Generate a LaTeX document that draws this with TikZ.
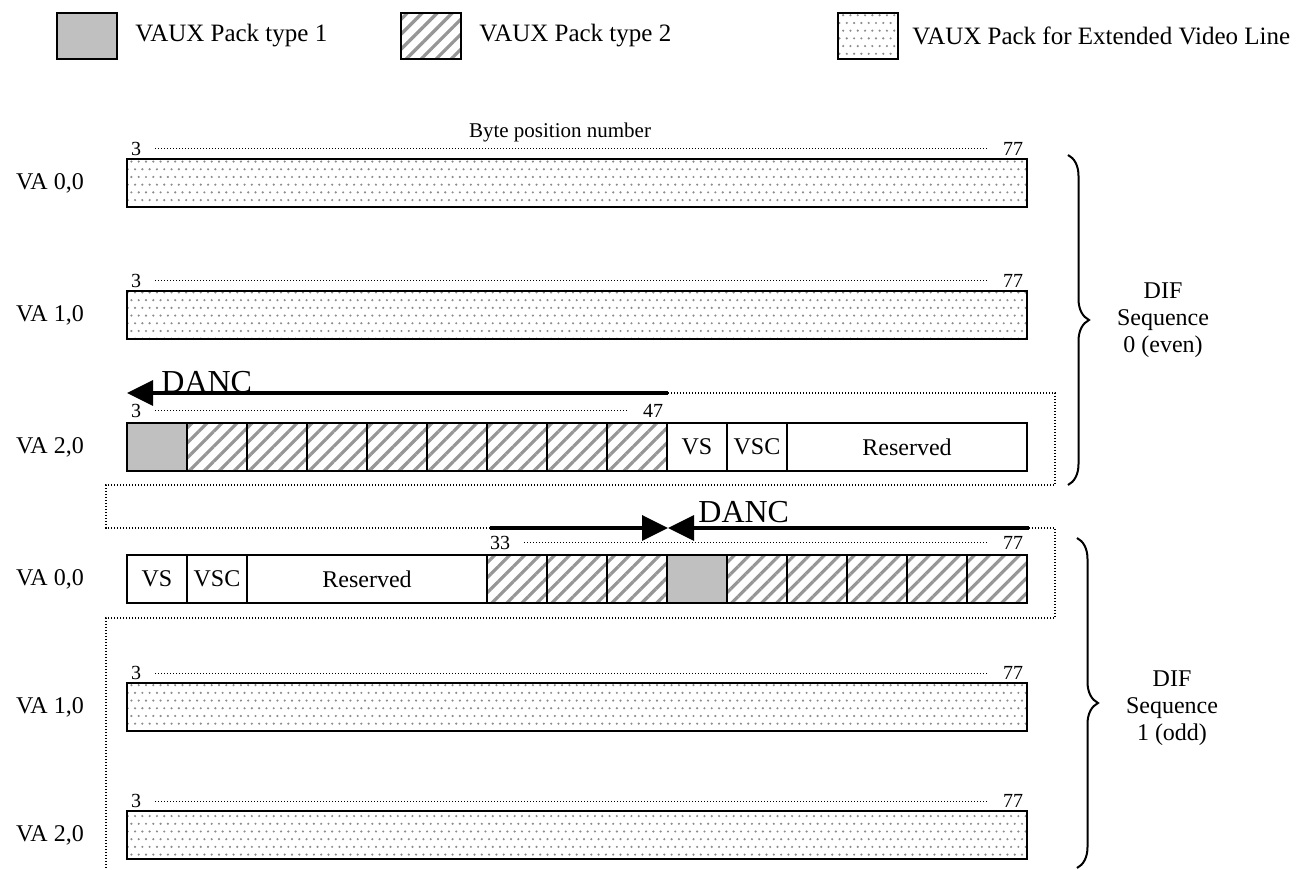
\documentclass[tikz,border=0pt]{standalone}
\usepackage{fontspec}
\setmainfont{Liberation Serif}
\usepackage{tikz}
\usetikzlibrary{arrows.meta,positioning,patterns,patterns.meta,
                decorations.pathreplacing}
\definecolor{cGrey}{RGB}{192,192,192}
\definecolor{cHatch}{RGB}{150,150,150}
\definecolor{cDots}{RGB}{140,140,140}
\pgfdeclarepatternformonly{extdots}{\pgfqpoint{-1pt}{-1pt}}%
  {\pgfqpoint{4.65pt}{8.7pt}}{\pgfqpoint{3.65pt}{7.7pt}}{%
  \pgfpathcircle{\pgfqpoint{0pt}{0pt}}{0.6pt}%
  \pgfpathcircle{\pgfqpoint{1.825pt}{3.85pt}}{0.6pt}%
  \pgfusepath{fill}}
\tikzset{
  basecell/.style={draw=black,line width=1pt,inner sep=0pt,outer sep=0pt,
                   minimum height=24pt,font=\fontsize{12}{14}\selectfont},
  cell/.style={basecell,minimum width=30pt},
  typeone/.style={cell,fill=cGrey},
  typetwo/.style={cell,pattern={Lines[angle=45,distance=5.3pt,line width=1.6pt]},
                  pattern color=cHatch},
  extrow/.style={basecell,minimum width=450pt,pattern=extdots,
                 pattern color=cDots},
  extcell/.style={cell,pattern=extdots,pattern color=cDots},
  rescell/.style={basecell,minimum width=120pt},
  legtext/.style={anchor=west,inner sep=0pt,font=\fontsize{12.5}{15}\selectfont},
  rowlabel/.style={inner sep=0pt,font=\fontsize{12}{14}\selectfont},
  bytenum/.style={inner sep=0pt,font=\fontsize{10}{12}\selectfont},
  bytetitle/.style={inner sep=0pt,font=\fontsize{10.5}{12}\selectfont},
  bytedots/.style={line width=0.5pt,dash pattern=on 0.5pt off 1pt,
                   shorten <=7pt,shorten >=7pt},
  seqdots/.style={line width=0.6pt,dash pattern=on 0.6pt off 0.9pt},
  dancarr/.style={-{Triangle[length=13pt,width=12.5pt]},line width=1.8pt},
  danctext/.style={anchor=west,inner sep=0pt,font=\fontsize{16}{19}\selectfont},
  seqbrace/.style={decorate,decoration={brace,amplitude=10.5pt},line width=1pt},
  seqtext/.style={align=center,font=\fontsize{12}{13.5}\selectfont}
}
\begin{document}
\begin{tikzpicture}[x=0.5pt,y=-0.5pt]
  \useasboundingbox (0,0) rectangle (1300,870);

  % legend
  \node[typeone,minimum height=23pt] (leg1) at (87,36) {};
  \node[legtext,right=9pt of leg1] (leg1t) {VAUX Pack type 1};
  \node[typetwo,minimum height=23pt] (leg2) at (431,36) {};
  \node[legtext,right=9pt of leg2] (leg2t) {VAUX Pack type 2};
  \node[extcell,minimum height=23pt] (leg3) at (868,36) {};
  \node[legtext,right=7pt of leg3] (leg3t) {VAUX Pack for Extended Video Line};

  % DIF sequence 0
  \node[bytetitle] (bytepos) at (560,132) {Byte position number};
  \node[rowlabel] (l0a) at (50,183) {VA 0,0};
  \node[rowlabel] (l0b) at (50,315) {VA 1,0};
  \node[rowlabel] (l0c) at (50,447) {VA 2,0};
  \node[extrow] (s0va0) at (577,183) {};
  \node[extrow] (s0va1) at (577,315) {};
  \node[bytenum] (s0a3) at (136,149) {3};
  \node[bytenum] (s0a77) at (1013,149) {77};
  \node[bytenum] (s0b3) at (136,281) {3};
  \node[bytenum] (s0b77) at (1013,281) {77};
  \draw[bytedots] (s0a3) -- (s0a77);
  \draw[bytedots] (s0b3) -- (s0b77);

  \node[typeone] (s0c0) at (157,447) {};
  \foreach \k in {1,...,8}
    \node[typetwo] (s0c\k) at ({157+60*\k},447) {};
  \node[cell] (s0vs) at (697,447) {VS};
  \node[cell] (s0vsc) at (757,447) {VSC};
  \node[rescell] (s0res) at (907,447) {Reserved};
  \node[bytenum] (s0c3) at (136,411) {3};
  \node[bytenum] (s0c47) at (653,411) {47};
  \draw[bytedots] (s0c3) -- (s0c47);

  % DIF sequence 1
  \node[rowlabel] (l1a) at (50,579) {VA 0,0};
  \node[rowlabel] (l1b) at (50,707) {VA 1,0};
  \node[rowlabel] (l1c) at (50,835) {VA 2,0};
  \node[cell] (s1vs) at (157,579) {VS};
  \node[cell] (s1vsc) at (217,579) {VSC};
  \node[rescell] (s1res) at (367,579) {Reserved};
  \foreach \k in {6,7,8,10,11,12,13,14}
    \node[typetwo] (s1c\k) at ({157+60*\k},579) {};
  \node[typeone] (s1c9) at (697,579) {};
  \node[bytenum] (s1a33) at (500,543) {33};
  \node[bytenum] (s1a77) at (1013,543) {77};
  \draw[bytedots] (s1a33) -- (s1a77);

  \node[extrow] (s1va1) at (577,707) {};
  \node[extrow] (s1va2) at (577,835) {};
  \node[bytenum] (s1b3) at (136,673) {3};
  \node[bytenum] (s1b77) at (1013,673) {77};
  \node[bytenum] (s1c3) at (136,801) {3};
  \node[bytenum] (s1c77) at (1013,801) {77};
  \draw[bytedots] (s1b3) -- (s1b77);
  \draw[bytedots] (s1c3) -- (s1c77);

  % DANC arrows
  \coordinate (danc0s) at (668,393);
  \coordinate (danc0e) at (127,393);
  \coordinate (danc1l) at (490,528);
  \coordinate (danc1m) at (668,528);
  \coordinate (danc1r) at (1029,528);
  \draw[dancarr] (danc0s) -- (danc0e);
  \node[danctext] (danc0t) at (161,382) {DANC};
  \draw[dancarr] (danc1l) -- (danc1m);
  \draw[dancarr] (danc1r) -- (danc1m);
  \node[danctext] (danc1t) at (698,512) {DANC};

  % dotted borders
  \draw[seqdots] (danc0s) -- (1055,393) -- (1055,485) -- (106,485)
      -- (106,528) -- (danc1l);
  \draw[seqdots] (danc1r) -- (1055,528) -- (1055,618) -- (106,618)
      -- (106,870);

  % braces
  \coordinate (br0t) at (1068,155);
  \coordinate (br0b) at (1068,485);
  \coordinate (br1t) at (1077,538);
  \coordinate (br1b) at (1077,868);
  \draw[seqbrace] (br0t) -- (br0b);
  \draw[seqbrace] (br1t) -- (br1b);
  \node[seqtext] (seq0) at (1163,320) {DIF\\Sequence\\0 (even)};
  \node[seqtext] (seq1) at (1172,708) {DIF\\Sequence\\1 (odd)};
\end{tikzpicture}
\end{document}
